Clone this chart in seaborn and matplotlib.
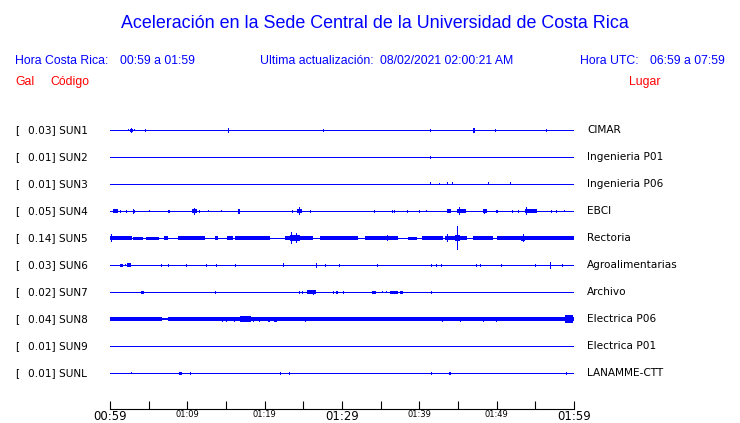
import matplotlib
matplotlib.use("Agg")
import matplotlib.pyplot as plt
import seaborn as sns
import pandas as pd

# station table
codes = ["SUN1", "SUN2", "SUN3", "SUN4", "SUN5", "SUN6", "SUN7", "SUN8", "SUN9", "SUNL"]
gal = [0.03, 0.01, 0.01, 0.05, 0.14, 0.03, 0.02, 0.04, 0.01, 0.01]
places = ["CIMAR", "Ingenieria P01", "Ingenieria P06", "EBCI", "Rectoria",
          "Agroalimentarias", "Archivo", "Electrica P06", "Electrica P01", "LANAMME-CTT"]

# time axis (minutes after 00:59)
tick_minutes = [0, 5, 10, 15, 20, 25, 30, 35, 40, 45, 50, 55, 60]
tick_labels = ["00:59", "", "01:09", "", "01:19", "", "01:29", "", "01:39", "", "01:49", "", "01:59"]
big_labels = ["00:59", "01:29", "01:59"]

# bursts: (start min, end min, half amplitude)
sun1 = [(2.41, 2.41, 1.0), (2.59, 3.02, 1.5), (2.84, 2.84, 2.5), (3.19, 3.19, 1.0),
        (4.6, 4.7, 1.5), (15.35, 15.35, 2.5), (27.58, 27.58, 1.5), (41.5, 41.5, 1.5),
        (47.0, 47.15, 2.5), (49.79, 49.79, 1.5), (56.5, 56.5, 1.5)]
sun2 = [(41.5, 41.5, 1.5)]
sun3 = [(41.5, 41.5, 1.5), (42.67, 42.67, 1.0), (43.6, 43.6, 1.5), (44.23, 44.23, 1.5),
        (48.9, 48.9, 1.5), (51.84, 51.84, 1.5)]
sun4 = [(0.39, 1.03, 2.0), (1.42, 1.42, 1.5), (2.07, 2.07, 1.5), (3.01, 3.01, 2.5),
        (3.23, 3.23, 1.5), (5.17, 5.17, 1.0), (7.5, 7.7, 1.5), (10.6, 11.25, 2.0),
        (10.9, 10.9, 3.5), (11.51, 11.51, 1.5), (12.8, 12.8, 1.0), (14.48, 14.48, 1.0),
        (16.55, 16.81, 2.5), (23.54, 23.54, 1.5), (24.18, 24.83, 2.0), (24.44, 24.44, 4.0),
        (25.95, 25.95, 1.5), (34.14, 34.14, 1.5), (36.47, 36.47, 1.5), (36.85, 36.85, 1.5),
        (38.41, 38.41, 1.5), (39.96, 39.96, 1.5), (40.99, 40.99, 1.0), (43.58, 44.1, 2.0),
        (44.87, 46.04, 2.0), (45.13, 45.13, 4.0), (48.23, 48.75, 2.0), (48.45, 48.45, 2.5),
        (49.92, 49.92, 1.5), (50.17, 50.17, 1.5), (52.11, 52.11, 1.5), (52.76, 52.76, 1.5),
        (53.67, 55.22, 2.0), (53.8, 53.8, 4.0), (57.03, 57.03, 1.5), (57.8, 57.8, 1.5),
        (58.71, 58.71, 1.0)]
sun5 = [(0.0, 2.84, 2.0), (0.22, 0.22, 4.0), (2.97, 4.27, 1.5), (4.66, 6.34, 1.5),
        (6.98, 7.5, 2.0), (8.79, 12.28, 2.0), (13.58, 13.97, 2.0), (15.13, 15.91, 2.0),
        (16.16, 20.69, 2.0), (22.63, 26.25, 2.0), (23.49, 23.49, 6.0), (24.18, 24.18, 5.0),
        (23.3, 24.6, 3.0), (27.16, 32.07, 2.0), (32.98, 37.24, 2.0), (35.82, 35.82, 3.0),
        (38.54, 39.7, 1.5), (40.35, 43.06, 2.0), (43.32, 46.2, 2.0), (43.58, 43.58, 4.0),
        (44.91, 44.91, 12.0), (44.6, 45.3, 3.0), (46.94, 49.53, 2.0), (50.05, 60.0, 2.0),
        (53.41, 53.41, 4.0), (53.2, 53.7, 2.5)]
sun6 = [(1.29, 1.64, 1.5), (1.94, 1.94, 1.0), (2.2, 2.72, 2.0), (6.69, 6.69, 1.5),
        (7.54, 7.54, 1.5), (9.92, 9.92, 1.5), (12.5, 12.5, 1.5), (13.75, 13.75, 1.5),
        (16.2, 16.2, 1.5), (22.41, 22.41, 2.0), (26.73, 26.73, 2.5), (27.89, 27.89, 1.5),
        (29.65, 29.65, 1.5), (34.57, 34.57, 1.5), (41.51, 41.51, 1.5), (42.16, 42.16, 1.5),
        (42.89, 42.89, 1.5), (47.33, 47.33, 1.5), (47.85, 47.85, 1.5), (50.6, 50.6, 1.5),
        (55.0, 55.0, 1.5), (56.9, 56.9, 3.5), (58.54, 58.54, 1.5)]
sun7 = [(3.97, 4.4, 1.5), (13.62, 13.62, 1.5), (24.48, 24.48, 1.5), (24.87, 24.87, 1.5),
        (25.44, 26.64, 2.0), (26.29, 26.29, 2.5), (28.88, 28.88, 1.5), (29.23, 29.48, 1.5),
        (30.17, 30.17, 1.5), (33.92, 34.36, 1.5), (35.21, 35.21, 1.0), (35.78, 35.78, 1.0),
        (36.21, 37.28, 1.5), (37.5, 37.93, 1.5), (41.51, 41.51, 1.5)]
sun8 = [(0.0, 6.69, 2.0), (6.69, 7.5, 1.2), (7.5, 37.7, 2.0), (37.7, 50.0, 1.6), (50.0, 60.0, 2.0),
        (14.44, 14.6, 2.5), (15.0, 15.15, 2.5), (16.16, 16.16, 2.5), (16.81, 18.19, 3.0),
        (18.62, 18.62, 2.5), (19.31, 19.31, 2.5), (20.39, 20.69, 2.5), (21.25, 21.55, 2.5),
        (25.22, 25.22, 2.5), (42.97, 42.97, 2.5), (45.2, 45.4, 2.5), (48.27, 48.27, 2.5),
        (50.0, 50.0, 2.5), (58.84, 59.87, 4.0)]
sun9 = []
sunl = [(2.75, 2.75, 1.0), (8.92, 9.27, 1.5), (10.38, 10.38, 1.5), (22.11, 22.11, 1.5),
        (23.24, 23.24, 1.5), (41.51, 41.51, 1.5), (43.9, 44.05, 1.5), (59.06, 59.06, 1.5)]
events = [sun1, sun2, sun3, sun4, sun5, sun6, sun7, sun8, sun9, sunl]

BLUE = "#0000ff"
W, H = 740, 423

sns.set_style("white")
plt.rcParams["font.family"] = ["DejaVu Sans"]

fig = plt.figure(figsize=(W / 100, H / 100), dpi=100)
# trace area in pixel terms: x 110..574, y 110..409
ax = fig.add_axes([110 / W, (H - 409) / H, 464 / W, 299 / H])
ax.set_xlim(tick_minutes[0], tick_minutes[-1])
ax.set_ylim(409, 110)

rows = [130 + 27 * i for i in range(len(codes))]

# baselines
base = pd.DataFrame({
    "t": [tick_minutes[0], tick_minutes[-1]] * len(codes),
    "y": [r for r in rows for _ in range(2)],
    "code": [c for c in codes for _ in range(2)],
})
sns.lineplot(data=base, x="t", y="y", units="code", estimator=None,
             color=BLUE, linewidth=0.72, antialiased=False, ax=ax, legend=False, zorder=0.5)

# bursts
px_min = (tick_minutes[-1] - tick_minutes[0]) / 464
for row, ev in zip(rows, events):
    for t0, t1, amp in ev:
        ax.bar((t0 + t1) / 2, 2 * amp, bottom=row - amp, width=max(t1 - t0, px_min),
               color=BLUE, linewidth=0, antialiased=False)

# axis styling
for s in ["top", "left", "right"]:
    ax.spines[s].set_visible(False)
ax.spines["bottom"].set_color("black")
ax.spines["bottom"].set_linewidth(0.8)
ax.set_yticks([])
ax.set_xticks(tick_minutes)
ax.set_xticklabels(tick_labels)
ax.tick_params(axis="x", bottom=True, direction="in", length=6, width=0.8, pad=1,
               colors="black")
for lab in ax.get_xticklabels():
    if lab.get_text() in big_labels:
        lab.set_fontsize(8.4)
    else:
        lab.set_fontsize(6)
ax.set_xlabel("")
ax.set_ylabel("")

# station labels
for row, g, c, p in zip(rows, gal, codes, places):
    fig.text(15 / W, 1 - row / H, "[", fontsize=7.6, va="center", ha="left", color="black")
    fig.text(28 / W, 1 - row / H, f"{g:.2f}] {c}", fontsize=7.6, va="center", ha="left",
             color="black")
    fig.text(587 / W, 1 - row / H, p, fontsize=7.6, va="center", ha="left", color="black")

# header
hdr = ["Liberation Sans", "DejaVu Sans"]
fig.text(375 / W, 1 - 23 / H, "Aceleración en la Sede Central de la Universidad de Costa Rica",
         fontsize=12.9, color=BLUE, ha="center", va="center", family=hdr)
fig.text(15 / W, 1 - 61 / H, "Hora Costa Rica:", fontsize=8.8, color=BLUE, va="center", family=hdr)
fig.text(120 / W, 1 - 61 / H, "00:59 a 01:59", fontsize=8.8, color=BLUE, va="center", family=hdr)
fig.text(260 / W, 1 - 61 / H, "Ultima actualización:", fontsize=8.8, color=BLUE, va="center",
         family=hdr)
fig.text(380 / W, 1 - 61 / H, "08/02/2021 02:00:21 AM", fontsize=8.8, color=BLUE, va="center",
         family=hdr)
fig.text(580 / W, 1 - 61 / H, "Hora UTC:", fontsize=8.8, color=BLUE, va="center", family=hdr)
fig.text(650 / W, 1 - 61 / H, "06:59 a 07:59", fontsize=8.8, color=BLUE, va="center", family=hdr)
fig.text(15 / W, 1 - 82 / H, "Gal", fontsize=8.8, color="red", va="center", family=hdr)
fig.text(50 / W, 1 - 82 / H, "Código", fontsize=8.8, color="red", va="center", family=hdr)
fig.text(629 / W, 1 - 82 / H, "Lugar", fontsize=8.8, color="red", va="center", family=hdr)

fig.savefig("out.png", dpi=100)
